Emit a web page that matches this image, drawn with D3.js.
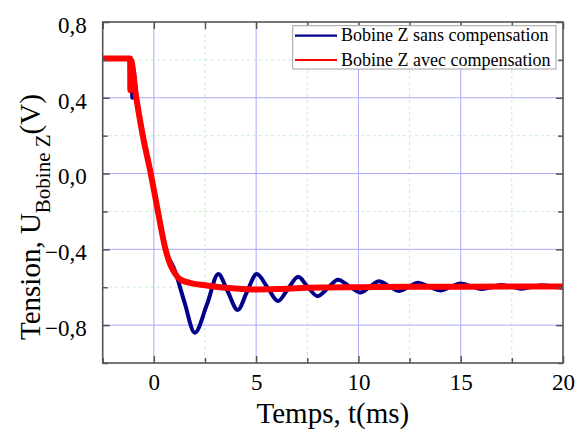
<!DOCTYPE html>
<html>
<head>
<meta charset="utf-8">
<script src="https://cdn.jsdelivr.net/npm/d3@7"></script>
<style>
  html, body { margin: 0; padding: 0; background: #fff; }
  svg { display: block; }
  text { font-family: "Liberation Serif", "Times New Roman", serif; fill: #000; }
</style>
</head>
<body>
<div id="chart"></div>
<script>
// ---- data ----
const xMajorTicks = [0, 5, 10, 15, 20];
const xMinorTicks = [-2.5, 2.5, 7.5, 12.5, 17.5];
const yMajorTicks = [-0.8, -0.4, 0.0, 0.4, 0.8];
const yMinorTicks = [-1.0, -0.6, -0.2, 0.2, 0.6];

const seriesNames = ["Bobine Z sans compensation", "Bobine Z avec compensation"];

// Bobine Z sans compensation (blue)
const tSans = [-2.5, -1.16, -1.1, -1.05, -1.02, -0.86, -0.54, -0.15, 0.2, 0.57, 1.02, 1.5, 2.0, 2.6, 3.15,
  3.6, 4.1, 4.55, 5.03, 5.55, 6.07, 6.55, 7.06, 7.5, 8.0, 8.5, 9.0, 9.55, 10.1, 10.55, 11.0,
  11.5, 12.0, 12.45, 12.9, 13.45, 14.0, 14.5, 15.0, 15.5, 16.0, 16.5, 17.0, 17.5, 18.0, 18.5, 19.0, 19.5, 20.0];
const vSans = [0.607, 0.607, 0.60, 0.40, 0.556, 0.42, 0.2, 0.0, -0.2, -0.40, -0.51, -0.68, -0.84, -0.69, -0.53,
  -0.62, -0.72, -0.625, -0.53, -0.60, -0.673, -0.61, -0.545, -0.595, -0.647, -0.605, -0.56, -0.595, -0.628, -0.598, -0.568,
  -0.594, -0.62, -0.598, -0.576, -0.597, -0.617, -0.598, -0.58, -0.595, -0.61, -0.60, -0.588, -0.598, -0.608, -0.598, -0.59, -0.597, -0.603];

// Bobine Z avec compensation (red)
const tAvec = [-2.5, -1.16, -1.15, -1.13, -0.86, -0.54, -0.15, 0.2, 0.57, 0.8, 1.02, 1.27, 1.76, 2.5, 3.0,
  4.0, 5.0, 6.0, 7.5, 10.0, 12.5, 15.0, 17.5, 20.0];
const vAvec = [0.607, 0.607, 0.44, 0.60, 0.40, 0.2, 0.0, -0.2, -0.40, -0.48, -0.525, -0.558, -0.577, -0.59, -0.597,
  -0.607, -0.612, -0.61, -0.603, -0.60, -0.598, -0.597, -0.596, -0.596];

// ---- layout ----
const W = 576, H = 430;
const L = 102.7, R = 563, T = 22, B = 363;

const svg = d3.select("#chart").append("svg").attr("width", W).attr("height", H);

const x = d3.scaleLinear().domain([-2.5, 20]).range([L, R]);
const y = d3.scaleLinear().domain([-1.0, 0.8]).range([B, T]);

const commaFmt = v => d3.format(".1f")(v).replace(".", ",");
const serif = '"Liberation Serif", "Times New Roman", serif';

// grid: minor (green dashed) then major (blue)
const grid = svg.append("g");
grid.selectAll(".gxm").data(xMinorTicks.filter(v => v > -2.5)).enter().append("line")
  .attr("x1", d => x(d)).attr("x2", d => x(d)).attr("y1", T).attr("y2", B)
  .attr("stroke", "#c6f0c6").attr("stroke-width", 1).attr("stroke-dasharray", "3,3");
grid.selectAll(".gym").data(yMinorTicks.filter(v => v > -1.0)).enter().append("line")
  .attr("y1", d => y(d)).attr("y2", d => y(d)).attr("x1", L).attr("x2", R)
  .attr("stroke", "#c6f0c6").attr("stroke-width", 1).attr("stroke-dasharray", "3,3");
grid.selectAll(".gx").data(xMajorTicks.filter(v => v < 20)).enter().append("line")
  .attr("x1", d => x(d)).attr("x2", d => x(d)).attr("y1", T).attr("y2", B)
  .attr("stroke", "#a9a9ff").attr("stroke-width", 1);
grid.selectAll(".gy").data(yMajorTicks.filter(v => v < 0.8)).enter().append("line")
  .attr("y1", d => y(d)).attr("y2", d => y(d)).attr("x1", L).attr("x2", R)
  .attr("stroke", "#a9a9ff").attr("stroke-width", 1);

// data lines
svg.append("clipPath").attr("id", "clip").append("rect")
  .attr("x", L).attr("y", T).attr("width", R - L).attr("height", B - T);

const line = d3.line().x(d => x(d[0])).y(d => y(d[1])).curve(d3.curveMonotoneX);
const sansData = d3.zip(tSans, vSans);
const avecData = d3.zip(tAvec, vAvec);

const plot = svg.append("g").attr("clip-path", "url(#clip)");
plot.append("path").datum(sansData).attr("d", line)
  .attr("fill", "none").attr("stroke", "#00008b").attr("stroke-width", 4).attr("stroke-linejoin", "round");
plot.append("path").datum(avecData).attr("d", line)
  .attr("fill", "none").attr("stroke", "#ff0000").attr("stroke-width", 6).attr("stroke-linejoin", "round");

// axes (ticks inward on all four sides)
const axisColor = "#555";
function styleAxis(g) {
  g.attr("font-family", null).attr("font-size", null);
  g.select(".domain").remove();
  g.selectAll(".tick line").attr("stroke", axisColor).attr("stroke-width", 1.5);
  g.selectAll(".tick text").style("font-family", serif)
    .style("font-size", "23px").attr("fill", "#000");
}
svg.append("g").attr("transform", `translate(0,${B})`)
  .call(d3.axisBottom(x).tickValues(xMajorTicks).tickSize(-7).tickPadding(11).tickFormat(d3.format("d")))
  .call(styleAxis);
svg.append("g").attr("transform", `translate(0,${B})`)
  .call(d3.axisBottom(x).tickValues(xMinorTicks).tickSize(-5).tickFormat(""))
  .call(styleAxis);
svg.append("g").attr("transform", `translate(0,${T})`)
  .call(d3.axisTop(x).tickValues(xMajorTicks.concat(xMinorTicks)).tickSize(-7).tickFormat(""))
  .call(styleAxis);
svg.append("g").attr("transform", `translate(${L},0)`)
  .call(d3.axisLeft(y).tickValues(yMajorTicks).tickSize(-7).tickPadding(16).tickFormat(commaFmt))
  .call(styleAxis)
  .call(g => g.selectAll(".tick text").attr("dy", "0.45em"));
svg.append("g").attr("transform", `translate(${L},0)`)
  .call(d3.axisLeft(y).tickValues(yMinorTicks).tickSize(-5).tickFormat(""))
  .call(styleAxis);
svg.append("g").attr("transform", `translate(${R},0)`)
  .call(d3.axisRight(y).tickValues(yMajorTicks).tickSize(-7).tickFormat(""))
  .call(styleAxis);
svg.append("g").attr("transform", `translate(${R},0)`)
  .call(d3.axisRight(y).tickValues(yMinorTicks).tickSize(-5).tickFormat(""))
  .call(styleAxis);

// frame
svg.append("rect").attr("x", L).attr("y", T).attr("width", R - L).attr("height", B - T)
  .attr("fill", "none").attr("stroke", axisColor).attr("stroke-width", 1.6);

// axis titles
svg.append("text").attr("x", (L + R) / 2).attr("y", 423).attr("text-anchor", "middle")
  .style("font-family", serif).style("font-size", "29px").text("Temps, t(ms)");

const yl = svg.append("text").attr("transform", "translate(40,340) rotate(-90)")
  .attr("text-anchor", "start").style("font-family", serif).style("font-size", "29px");
yl.append("tspan").text("Tension, U");
yl.append("tspan").attr("dy", 10).style("font-size", "21px").text("Bobine Z");
yl.append("tspan").attr("dy", -10).text("(V)");

// legend
const lg = svg.append("g");
lg.append("rect").attr("x", 292.7).attr("y", 25.7).attr("width", 263.3).attr("height", 43.3)
  .attr("fill", "#fff").attr("stroke", "#a0a0a0").attr("stroke-width", 1);
const legendColors = ["#00008b", "#ff0000"];
const legendY = [35.7, 60];
seriesNames.forEach((name, i) => {
  lg.append("line").attr("x1", 295).attr("x2", 337).attr("y1", legendY[i]).attr("y2", legendY[i])
    .attr("stroke", legendColors[i]).attr("stroke-width", 2.2);
  lg.append("text").attr("x", 341).attr("y", legendY[i] + 5.5)
    .style("font-family", serif).style("font-size", "18px").text(name);
});
</script>
</body>
</html>
